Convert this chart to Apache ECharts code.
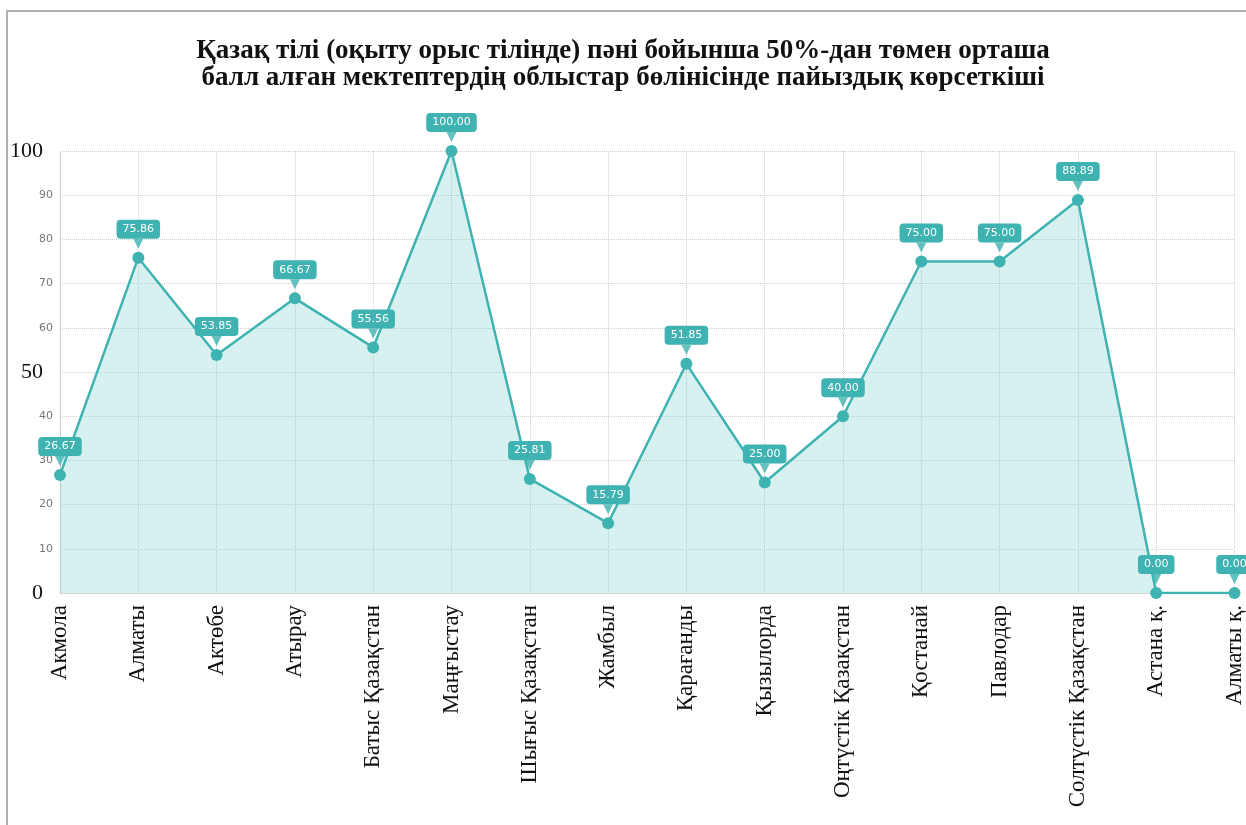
<!DOCTYPE html>
<html>
<head>
<meta charset="utf-8">
<script src="https://cdn.jsdelivr.net/npm/echarts@6/dist/echarts.min.js"></script>
<style>
  html,body{margin:0;padding:0;background:#fff;}
  #chart{width:1246px;height:825px;}
</style>
</head>
<body>
<div id="chart"></div>
<script>
var regions = ['Акмола','Алматы','Актөбе','Атырау','Батыс Қазақстан','Маңғыстау','Шығыс Қазақстан','Жамбыл','Қарағанды','Қызылорда','Оңтүстік Қазақстан','Қостанай','Павлодар','Солтүстік Қазақстан','Астана қ.','Алматы қ.'];
var percents = [26.67,75.86,53.85,66.67,55.56,100.00,25.81,15.79,51.85,25.00,40.00,75.00,75.00,88.89,0.00,0.00];
var titleText = 'Қазақ тілі (оқыту орыс тілінде) пәні бойынша 50%-дан төмен орташа\nбалл алған мектептердің облыстар бөлінісінде пайыздық көрсеткіші';

var teal = '#3fb3b1';
var myChart = echarts.init(document.getElementById('chart'));
myChart.setOption({
    animation:false,
    title:{
        text:titleText,
        left:'center',
        top:33,
        textStyle:{fontFamily:'Liberation Serif',fontWeight:'bold',fontSize:27,color:'#111',lineHeight:27}
    },
    graphic:[
        {type:'line',shape:{x1:7,y1:10,x2:7,y2:825},style:{stroke:'#b0b0b0',lineWidth:2}},
        {type:'line',shape:{x1:6,y1:11,x2:1246,y2:11},style:{stroke:'#b0b0b0',lineWidth:2}}
    ],
    grid:{left:60,right:11,top:151,bottom:232},
    xAxis:{
        type:'category',
        data:regions,
        boundaryGap:false,
        axisTick:{show:false},
        axisLine:{lineStyle:{color:'#ccc',type:'dotted'}},
        splitLine:{show:true,lineStyle:{color:'#d0d0d0',type:'dotted'}},
        axisLabel:{rotate:90,margin:12,fontFamily:'Liberation Serif',fontSize:23,color:'#111',interval:0}
    },
    yAxis:[{
        type:'value',
        min:0,max:100,interval:10,
        axisTick:{show:false},
        axisLine:{show:true,lineStyle:{color:'#ccc',type:'dotted'}},
        splitLine:{lineStyle:{color:'#d0d0d0',type:'dotted'}},
        axisLabel:{margin:7,fontSize:11,color:'#777',fontFamily:'DejaVu Sans',
            formatter:function(v){return (v%50===0)?'':v;}}
    },{
        type:'value',
        position:'left',
        min:0,max:100,interval:50,
        axisTick:{show:false},
        axisLine:{show:false},
        splitLine:{show:false},
        axisLabel:{margin:17,fontSize:22,color:'#111',fontFamily:'Liberation Serif'}
    }],
    series:[{
        type:'line',
        data:percents,
        symbol:'circle',
        symbolSize:12,
        itemStyle:{color:teal},
        lineStyle:{color:teal,width:2.5},
        areaStyle:{color:'rgba(110,200,200,0.4)'},
        label:{
            show:true,
            position:'top',
            distance:13,
            formatter:function(p){return p.value.toFixed(2);},
            color:'#fff',
            fontSize:11,
            fontFamily:'DejaVu Sans',
            backgroundColor:teal,
            borderRadius:4,
            padding:[4,6]
        },
        z:3
    },{
        type:'scatter',
        data:percents,
        symbol:'triangle',
        symbolRotate:180,
        symbolSize:[10,10],
        symbolOffset:[0,-14],
        itemStyle:{color:teal},
        silent:true,
        z:2
    }]
});
</script>
</body>
</html>
